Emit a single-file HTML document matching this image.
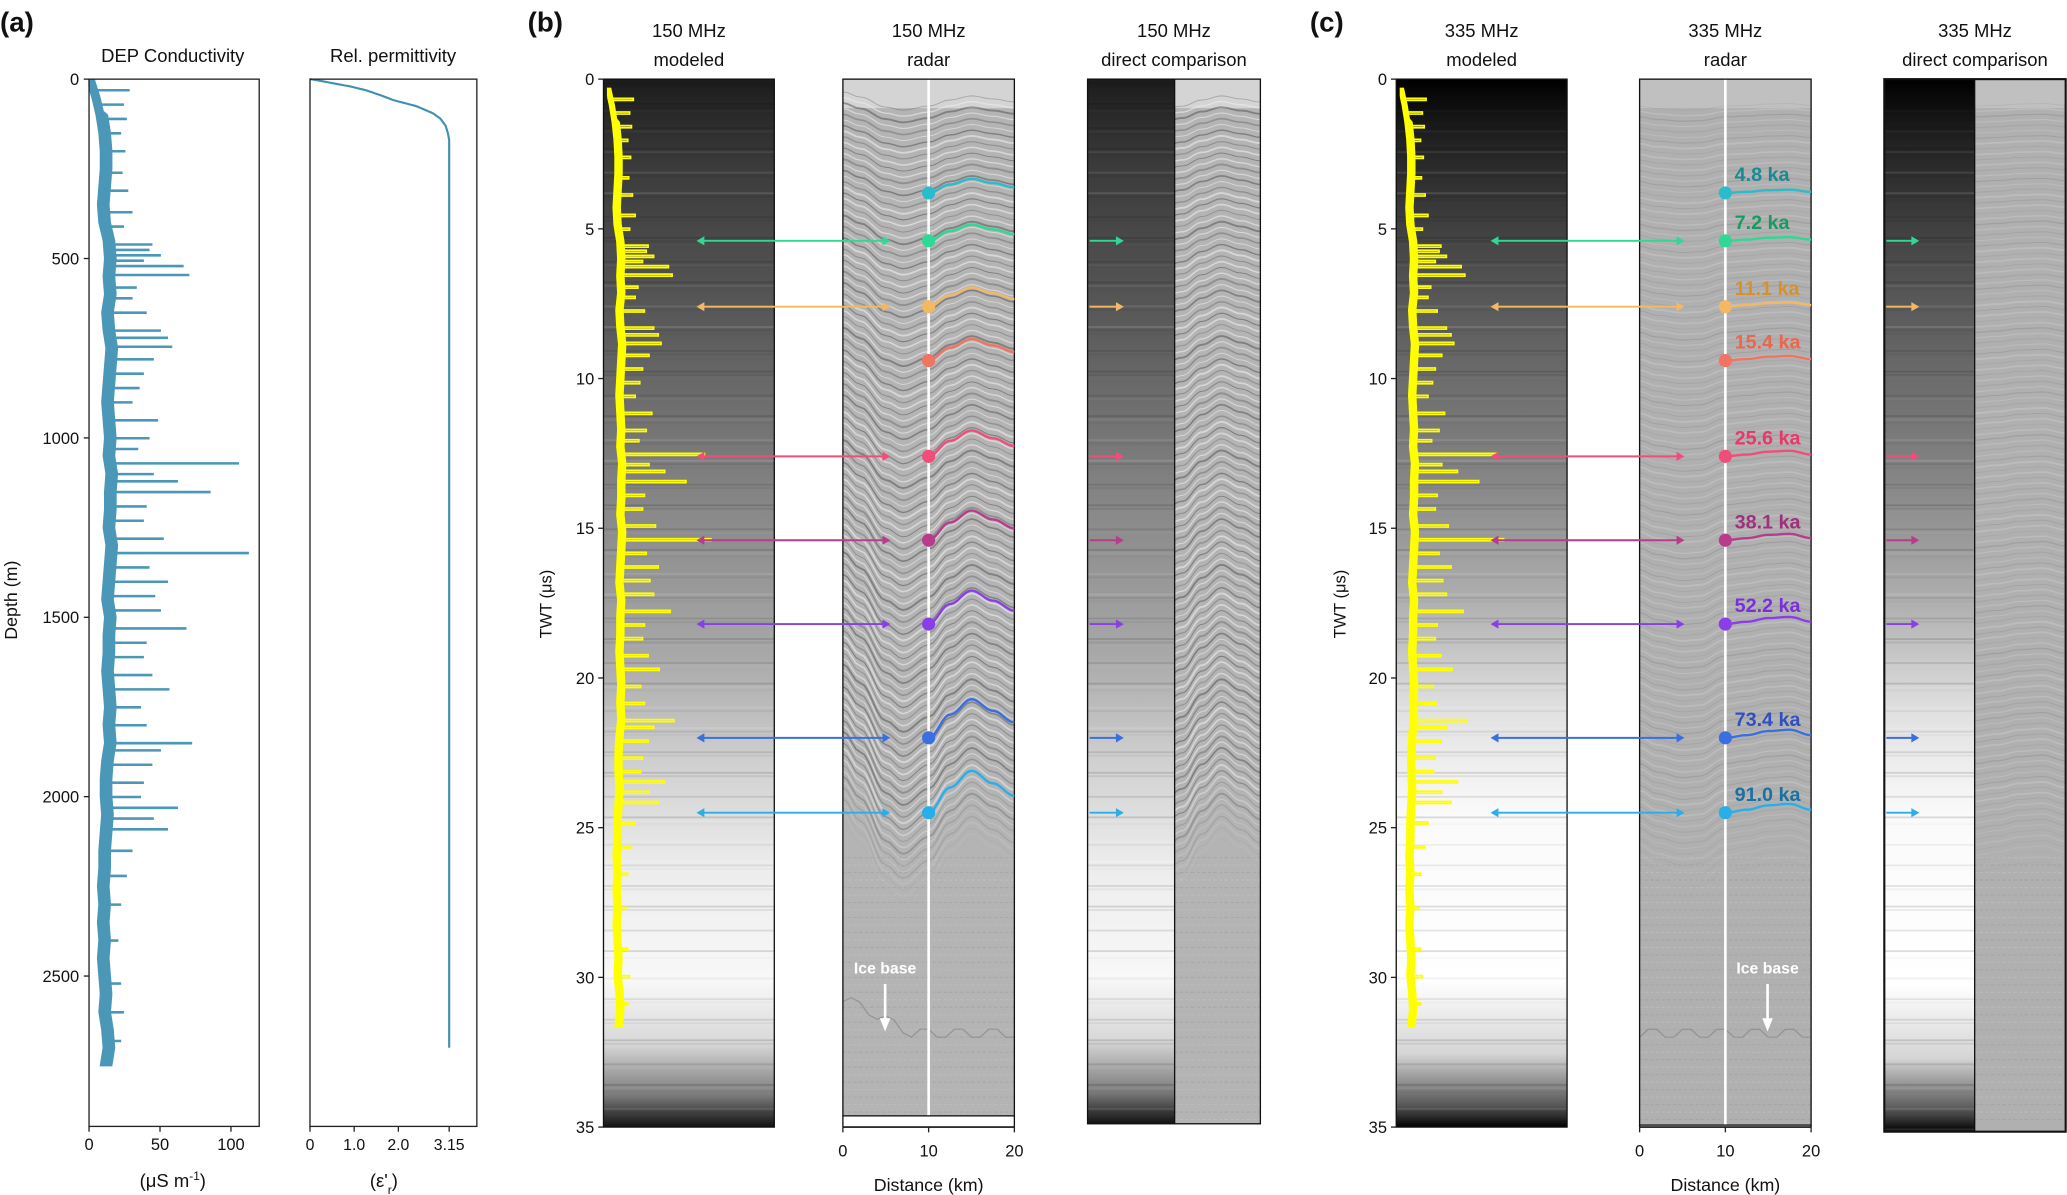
<!DOCTYPE html>
<html><head><meta charset="utf-8"><style>
html,body{margin:0;padding:0;background:#fff}
svg{display:block}
text{font-family:"Liberation Sans",sans-serif;fill:#111}
</style></head><body>
<svg id="fig" xmlns="http://www.w3.org/2000/svg" viewBox="0 0 1567 906" width="2067" height="1195" preserveAspectRatio="none">
<defs>
<linearGradient id="gModB" x1="0" y1="0" x2="0" y2="1">
<stop offset="0" stop-color="#1c1c1c"/><stop offset="0.08" stop-color="#3a3a3a"/><stop offset="0.25" stop-color="#5e5e5e"/><stop offset="0.42" stop-color="#8a8a8a"/><stop offset="0.55" stop-color="#a8a8a8"/><stop offset="0.65" stop-color="#cfcfcf"/><stop offset="0.75" stop-color="#ececec"/><stop offset="0.86" stop-color="#f8f8f8"/><stop offset="0.92" stop-color="#d8d8d8"/><stop offset="0.97" stop-color="#7a7a7a"/><stop offset="1" stop-color="#111"/>
</linearGradient>
<linearGradient id="gModC" x1="0" y1="0" x2="0" y2="1">
<stop offset="0" stop-color="#000"/><stop offset="0.06" stop-color="#222"/><stop offset="0.2" stop-color="#555"/><stop offset="0.38" stop-color="#858585"/><stop offset="0.5" stop-color="#b0b0b0"/><stop offset="0.6" stop-color="#e0e0e0"/><stop offset="0.7" stop-color="#fafafa"/><stop offset="0.86" stop-color="#fff"/><stop offset="0.93" stop-color="#d5d5d5"/><stop offset="0.98" stop-color="#555"/><stop offset="1" stop-color="#000"/>
</linearGradient>
</defs>
<g id="root"></g>
</svg>
<script>
// ---------- data ----------
const depthTicks = [0, 500, 1000, 1500, 2000, 2500];
const condTicks = [0, 50, 100];
const permTicks = [0, 1.0, 2.0, 3.15];
const permTickLabels = ['0', '1.0', '2.0', '3.15'];
const twtTicks = [0, 5, 10, 15, 20, 25, 30, 35];
const distTicks = [0, 10, 20];
const condBaseDepths = [0,50,100,150,200,250,300,350,400,450,500,550,600,650,700,750,800,850,900,950,1000,1050,1100,1150,1200,1250,1300,1350,1400,1450,1500,1550,1600,1650,1700,1750,1800,1850,1900,1950,2000,2050,2100,2150,2200,2250,2300,2350,2400,2450,2500,2550,2600,2650,2700,2750];
const condBaseValues = [2,6,9,11,12,12,11,10,11,14,15,14,15,13,14,16,15,14,13,14,15,14,16,15,15,14,16,15,14,13,15,14,14,13,14,15,14,15,13,12,12,13,12,11,11,10,11,10,11,10,11,12,11,13,14,12];
const spikeDepths = [30,70,110,150,200,260,310,370,410,460,475,490,505,520,545,580,610,650,700,720,745,780,820,860,900,950,1000,1030,1070,1100,1120,1150,1190,1230,1280,1320,1360,1400,1440,1480,1530,1570,1610,1660,1700,1750,1800,1850,1870,1910,1960,2000,2030,2060,2090,2150,2220,2300,2400,2520,2600,2680];
const spikeValues = [28,24,26,22,25,23,27,30,24,44,42,50,38,66,70,33,30,40,50,55,58,45,38,35,30,48,42,34,105,45,62,85,40,38,52,112,42,55,46,50,68,40,38,44,56,36,40,72,50,44,38,36,62,45,55,30,26,22,20,22,24,22];
const permDepths = [0, 5, 11, 20, 31, 45, 59, 75, 95, 110, 130, 150, 170, 2730];
const permValues = [0, 0.25, 0.5, 0.9, 1.27, 1.6, 1.9, 2.4, 2.78, 2.95, 3.07, 3.12, 3.15, 3.15];
const horizonTwt = [3.8, 5.4, 7.6, 9.4, 12.6, 15.4, 18.2, 22.0, 24.5];
const horizonAges = ['4.8 ka','7.2 ka','11.1 ka','15.4 ka','25.6 ka','38.1 ka','52.2 ka','73.4 ka','91.0 ka'];
const horizonArrow = [0,1,1,0,1,1,1,1,1];
const horizonColors = ['#2bbccb','#2fd894','#f2b866','#f07462','#f24d7a','#b83c8c','#8a3ee8','#3b6ee0','#2aaee8'];
const ageColors = ['#1a8a92','#1a9a62','#d8912a','#e8684e','#e8386a','#a0307c','#7a30d8','#3050c0','#1a72a2'];
const shapeKmB = [0,2,5,7,10,12.5,15,17.5,20];
const shapeOffB = [-1.4,-0.9,0.1,0.4,0,-0.6,-1.0,-0.7,-0.4];
const shapeKmC = [0,2,5,7,10,12.5,15,17.5,20];
const shapeOffC = [0.0,0.3,0.5,0.45,0,-0.1,-0.25,-0.3,-0.1];

// ---------- helpers ----------
const NS = 'http://www.w3.org/2000/svg';
const root = document.getElementById('root');
function mk(tag, parent, attrs){ const e=document.createElementNS(NS,tag); for(const k in attrs) e.setAttribute(k,attrs[k]); (parent||root).appendChild(e); return e; }
function grp(parent){ return mk('g',parent,{}); }
function txt(parent, x, y, s, size, anchor, extra){ const t=mk('text',parent,Object.assign({x:x,y:y,'font-size':size,'text-anchor':anchor||'middle'},extra||{})); t.textContent=s; return t; }
const yD = d => 60 + d*136/500;
const xC = v => 67.5 + v*1.076;
const xE = e => 235 + e*33.5;
const yT = t => 60 + t*22.7;
const xR = (km, x0) => x0 + km*6.5;
const toTwt = d => 0.3 + 0.0114*d;
function interp(xs, ys, x){ if(x<=xs[0]) return ys[0]; for(let i=1;i<xs.length;i++){ if(x<=xs[i]){ const f=(x-xs[i-1])/(xs[i]-xs[i-1]); const c=(1-Math.cos(f*Math.PI))/2; return ys[i-1]+(ys[i]-ys[i-1])*c; } } return ys[ys.length-1]; }
function monoInterp(xs, ys, x){ if(x<=xs[0]) return ys[0]; for(let i=1;i<xs.length;i++){ if(x<=xs[i]){ const f=(x-xs[i-1])/(xs[i]-xs[i-1]); return ys[i-1]+(ys[i]-ys[i-1])*f; } } return ys[ys.length-1]; }
const ampB = t => 0.3 + 0.045*t;
const ampC = t => 0.25 + 0.03*t;

function condPath(fx, fy, h){
  let ev = [];
  for(let i=0;i<condBaseDepths.length;i++) ev.push({d:condBaseDepths[i], v:condBaseValues[i], s:0});
  for(let i=0;i<spikeDepths.length;i++) ev.push({d:spikeDepths[i], v:spikeValues[i], s:1});
  ev.sort((a,b)=>a.d-b.d);
  let p = '';
  ev.forEach((e,i)=>{
    const base = monoInterp(condBaseDepths, condBaseValues, e.d);
    if(e.s){ p += `L${fx(base)},${fy(e.d)}L${fx(e.v)},${fy(e.d)}L${fx(e.v)},${fy(e.d+h)}L${fx(base)},${fy(e.d+h)}`; }
    else { p += (i===0?'M':'L') + fx(e.v)+','+fy(e.d); }
  });
  return p;
}
function condBand(fx, fy, half){
  let a='', b='';
  const last = condBaseDepths[condBaseDepths.length-1];
  for(let d=0; d<=last; d+=10){
    const v = monoInterp(condBaseDepths, condBaseValues, d);
    a += (d===0?'M':'L') + fx(Math.max(0,v-half)) + ',' + fy(d);
  }
  for(let d=last; d>=0; d-=10){
    const v = monoInterp(condBaseDepths, condBaseValues, d);
    b += 'L' + fx(v+half*(d<100?0.4:1)) + ',' + fy(d);
  }
  return a + b + 'Z';
}

// ---------- panel letters ----------
[['(a)',0,'panel-label-a'],['(b)',400,'panel-label-b'],['(c)',993,'panel-label-c']].forEach(a=>{
  const t = txt(root, a[1], 24, a[0], 21, 'start', {'font-weight':'bold'});
  
  
});

// ---------- panel (a) ----------
(function(){
  const g = grp();  
  let t = txt(g, 131, 47, 'DEP Conductivity', 14);
   
  t = txt(g, 298, 47, 'Rel. permittivity', 14);
   
  const bandEl = mk('path', g, {d:condBand(xC, yD, 4), fill:'#4a97b8', stroke:'#4a97b8', 'stroke-width':1});
   
  const band = mk('path', g, {d:condPath(xC, yD, 2), fill:'none', stroke:'#4a97b8', 'stroke-width':1.4});
   
  let pp='';
  for(let d=0; d<=permDepths[permDepths.length-1]; d+= (d<200?2:50)){ const v=monoInterp(permDepths, permValues, d); pp += (d===0?'M':'L')+xE(v).toFixed(2)+','+yD(d).toFixed(2); }
  const pc = mk('path', g, {d:pp, fill:'none', stroke:'#3f8fb2', 'stroke-width':1.6, 'stroke-linejoin':'round'});
   
  let b = mk('rect', g, {x:67.5, y:60, width:129, height:794, fill:'none', stroke:'#222', 'stroke-width':1});
   
  b = mk('rect', g, {x:235, y:60, width:126.5, height:794, fill:'none', stroke:'#222', 'stroke-width':1});
   
  depthTicks.forEach(d=>{
    mk('line', g, {x1:63.5, x2:67.5, y1:yD(d), y2:yD(d), stroke:'#222'});
    const l = txt(g, 60, yD(d)+4.5, String(d), 12.5, 'end');
     
  });
  condTicks.forEach(v=>{
    mk('line', g, {x1:xC(v), x2:xC(v), y1:854, y2:858, stroke:'#222'});
    const l = txt(g, xC(v), 872, String(v), 12.5);
     
  });
  permTicks.forEach((v,i)=>{
    mk('line', g, {x1:xE(v), x2:xE(v), y1:854, y2:858, stroke:'#222'});
    const l = txt(g, xE(v), 872, permTickLabels[i], 12);
     
  });
  t = txt(g, 131, 900, '(μS m', 14);
  const sup = mk('tspan', t, {'baseline-shift':'super','font-size':9}); sup.textContent='-1';
  const close = mk('tspan', t, {}); close.textContent=')';
   
  t = txt(g, 291, 900, "(ε'", 14);
  const sub = mk('tspan', t, {'baseline-shift':'sub','font-size':9}); sub.textContent='r';
  const c2 = mk('tspan', t, {}); c2.textContent=')';
   
  t = txt(g, 13, 455, 'Depth (m)', 13.5, 'middle', {transform:'rotate(-90 13 455)'});
   
})();

// ---------- radar texture ----------
function radarLayers(g, x0, x1, yBot, kmFrom, kmTo, shapeKm, shapeOff, amp, style){
  const cp = 'clip'+Math.round(x0);
  const cl = mk('clipPath', g, {id:cp}); mk('rect', cl, {x:x0, y:60, width:x1-x0, height:yBot-60});
  mk('rect', g, {x:x0, y:60, width:x1-x0, height:yBot-60, fill:style.bg});
  const lg = mk('g', g, {'clip-path':`url(#${cp})`});
  mk('rect', lg, {x:x0, y:60, width:x1-x0, height:22, fill:style.top});
  let k=0;
  for(let t=0.9; t<style.tMax; t+=style.step){
    let p='';
    for(let j=0;j<=40;j++){ const km = kmFrom + (kmTo-kmFrom)*j/40; const x = x0 + (x1-x0)*j/40; const y = yT(t + amp(t)*interp(shapeKm, shapeOff, km)); p += (j?'L':'M')+x.toFixed(1)+','+y.toFixed(1); }
    const dark = k%2===0;
    const w = 0.7 + ((k*7)%5)*0.18;
    const fade = t > style.tMax-3 ? (style.tMax-t)/3 : 1;
    mk('path', lg, {d:p, fill:'none', stroke: dark?style.dark:style.light, 'stroke-width': dark? w*style.dw : w, opacity: fade*(dark? style.dop*(0.6+((k*3)%4)*0.15) : style.lop)});
    k++;
  }
  for(let t=style.tMax-1; t<35; t+=0.25){
    mk('line', lg, {x1:x0, x2:x1, y1:yT(t), y2:yT(t), stroke:(k++%2)?'#999':'#c8c8c8', 'stroke-width':0.8, 'stroke-dasharray':'2 1.5 3 2', opacity:0.45});
  }
  return lg;
}

function modeledStripes(g, x0, x1, yBot, strength){
  for(let i=0; i*2.6<yBot-60; i++){
    const y = 60 + i*2.6;
    const v = ((i*37)%13)/13;
    if(v>0.55) mk('rect', g, {x:x0, y:y, width:x1-x0, height:1.4, fill:(i%3===0)?'#fff':'#000', opacity:(v-0.55)*strength});
  }
}

// ---------- panels b & c ----------
const panels = [
 {id:'b', freq:'150 MHz', mod:[457.5,587], rad:[639,769], radBot:846, dc:[824.5,890.5,955.5], dcBot:852, grad:'url(#gModB)', arrowL:[528,675], arrowR:[826,852], shapeKm:shapeKmB, shapeOff:shapeOffB, amp:ampB, labels:false, iceX:671,
  style:{bg:'#b4b4b4', top:'#d4d4d4', dark:'#4a4a4a', light:'#ececec', dw:1.0, dop:0.55, lop:0.6, step:0.2, tMax:27}, dcKm:[9,20], ylab:418},
 {id:'c', freq:'335 MHz', mod:[1058.5,1188], rad:[1243,1373], radBot:853, dc:[1428.5,1497,1566], dcBot:858, grad:'url(#gModC)', arrowL:[1130,1277], arrowR:[1430,1455], shapeKm:shapeKmC, shapeOff:shapeOffC, amp:ampC, labels:true, iceX:1340,
  style:{bg:'#b0b0b0', top:'#c0c0c0', dark:'#858585', light:'#d0d0d0', dw:0.7, dop:0.4, lop:0.4, step:0.18, tMax:27}, dcKm:[10,20], ylab:1020}
];

panels.forEach(P=>{
  const g = grp();  
  const mc = (P.mod[0]+P.mod[1])/2, rc=(P.rad[0]+P.rad[1])/2, dcc=(P.dc[0]+P.dc[2])/2;
  [[mc,'modeled'],[rc,'radar'],[dcc,'direct comparison']].forEach(a=>{
    const t1 = txt(g, a[0], 28, P.freq, 14);
     
    const t2 = txt(g, a[0], 50, a[1], 14);
     
  });
  const mg = grp(g);  
  mk('rect', mg, {x:P.mod[0], y:60, width:P.mod[1]-P.mod[0], height:yT(35)-60, fill:P.grad});
  modeledStripes(mg, P.mod[0], P.mod[1], yT(35), 0.35);
  const ybd = mk('path', mg, {d:condBand(v=>P.mod[0]+3+v*0.7, d=>yT(toTwt(d)), 4), fill:'#ffff00', stroke:'#ffff00', 'stroke-width':0.8});
   
  const yel = mk('path', mg, {d:condPath(v=>P.mod[0]+3+v*0.7, d=>yT(toTwt(d)), 6), fill:'none', stroke:'#ffff00', 'stroke-width':1.3});
   
  mk('rect', mg, {x:P.mod[0], y:60, width:P.mod[1]-P.mod[0], height:yT(35)-60, fill:'none', stroke:'#111', 'stroke-width':1});
  twtTicks.forEach(t=>{
    mk('line', mg, {x1:P.mod[0]-4, x2:P.mod[0], y1:yT(t), y2:yT(t), stroke:'#222'});
    const l = txt(mg, P.mod[0]-7, yT(t)+4.5, String(t), 12.5, 'end');
     
  });
  const yl = txt(g, P.ylab, 458, 'TWT (μs)', 12.5, 'middle', {transform:`rotate(-90 ${P.ylab} 458)`});
   

  const rg = grp(g);  
  radarLayers(rg, P.rad[0], P.rad[1], P.radBot, 0, 20, P.shapeKm, P.shapeOff, P.amp, P.style);
  let ib=''; for(let j=0;j<=20;j++){ const km=j; ib += (j?'L':'M')+xR(km,P.rad[0])+','+yT(31.6 + 0.4*Math.abs(((j*5)%4)-1.5)/1.5 - (P.id==='b'? (km<8? (8-km)*0.15:0):0)); }
  mk('path', rg, {d:ib, fill:'none', stroke:'#777', 'stroke-width':1, opacity:0.5});
  mk('line', rg, {x1:xR(10,P.rad[0]), x2:xR(10,P.rad[0]), y1:60, y2:P.radBot, stroke:'#fff', 'stroke-width':2});
  mk('rect', rg, {x:P.rad[0], y:60, width:130, height:P.radBot-60, fill:'none', stroke:'#111', 'stroke-width':1});
  mk('line', rg, {x1:P.rad[0], x2:P.rad[1], y1:yT(35), y2:yT(35), stroke:'#111', 'stroke-width':1.2});
  mk('line', rg, {x1:P.rad[0], x2:P.rad[0], y1:P.radBot, y2:yT(35), stroke:'#111', 'stroke-width':1});
  mk('line', rg, {x1:P.rad[1], x2:P.rad[1], y1:P.radBot, y2:yT(35), stroke:'#111', 'stroke-width':1});
  distTicks.forEach(km=>{
    mk('line', rg, {x1:xR(km,P.rad[0]), x2:xR(km,P.rad[0]), y1:yT(35), y2:yT(35)+4, stroke:'#222'});
    const l = txt(rg, xR(km,P.rad[0]), 877, String(km), 12.5);
     
  });
  const dl = txt(g, rc, 903, 'Distance (km)', 13.5);
   
  const it = txt(rg, P.iceX, 738, 'Ice base', 12, 'middle', {'font-weight':'bold', style:'fill:#fff'});
   
  mk('line', rg, {x1:P.iceX, x2:P.iceX, y1:746, y2:774, stroke:'#fff', 'stroke-width':2});
  const ia = mk('polygon', rg, {points:`${P.iceX-4},772 ${P.iceX+4},772 ${P.iceX},782`, fill:'#fff'});
   

  const dg = grp(g);  
  const cpd = 'clipdc'+P.id; const cl = mk('clipPath', dg, {id:cpd}); mk('rect', cl, {x:P.dc[0], y:60, width:P.dc[1]-P.dc[0], height:P.dcBot-60});
  const dm = mk('g', dg, {'clip-path':`url(#${cpd})`});
  mk('rect', dm, {x:P.dc[0], y:60, width:P.dc[1]-P.dc[0], height:P.dcBot-60, fill:P.grad});
  modeledStripes(dm, P.dc[0], P.dc[1], P.dcBot, 0.35);
  radarLayers(dg, P.dc[1], P.dc[2], P.dcBot, P.dcKm[0], P.dcKm[1], P.shapeKm, P.shapeOff, P.amp, P.style);
  mk('rect', dg, {x:P.dc[0], y:60, width:P.dc[2]-P.dc[0], height:P.dcBot-60, fill:'none', stroke:'#111', 'stroke-width':P.id==='c'?1.6:1});
  mk('line', dg, {x1:P.dc[1], x2:P.dc[1], y1:60, y2:P.dcBot, stroke:'#111', 'stroke-width':1});

  horizonTwt.forEach((t,i)=>{
    const col = horizonColors[i];
    const hg = grp(g);
    
    
    let p='';
    for(let j=0;j<=30;j++){ const km = 10 + 10*j/30; const off = P.amp(t)*(interp(P.shapeKm,P.shapeOff,km)-interp(P.shapeKm,P.shapeOff,10)); p += (j?'L':'M')+xR(km,P.rad[0]).toFixed(1)+','+yT(t+off).toFixed(1); }
    mk('path', hg, {d:p, fill:'none', stroke:col, 'stroke-width':1.8});
    const dot = mk('circle', hg, {cx:xR(10,P.rad[0]), cy:yT(t), r:5, fill:col});
     
    if(horizonArrow[i]){
      const y = yT(t), a=P.arrowL, r=P.arrowR;
      mk('line', hg, {x1:a[0]+4, x2:a[1]-4, y1:y, y2:y, stroke:col, 'stroke-width':1.5});
      mk('polygon', hg, {points:`${a[0]},${y} ${a[0]+6},${y-3.5} ${a[0]+6},${y+3.5}`, fill:col});
      mk('polygon', hg, {points:`${a[1]},${y} ${a[1]-6},${y-3.5} ${a[1]-6},${y+3.5}`, fill:col});
      mk('line', hg, {x1:r[0], x2:r[1]-4, y1:y, y2:y, stroke:col, 'stroke-width':1.5});
      mk('polygon', hg, {points:`${r[1]},${y} ${r[1]-6},${y-3.5} ${r[1]-6},${y+3.5}`, fill:col});
    }
    if(P.labels){
      const lbl = txt(hg, xR(10,P.rad[0])+7, yT(t)-9, horizonAges[i], 15, 'start', {'font-weight':'bold', style:'fill:'+ageColors[i]});
       
    }
  });
});
</script>
</body></html>
